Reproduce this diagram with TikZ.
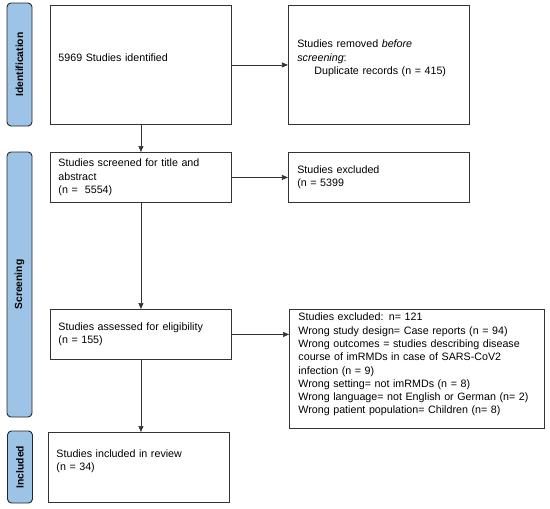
\documentclass[tikz,border=0pt]{standalone}
\usepackage{fontspec}
\setmainfont{Liberation Sans}
\usetikzlibrary{positioning,arrows.meta}
\definecolor{phaseblue}{RGB}{157,195,230}

\begin{document}
\begin{tikzpicture}[x=1pt, y=1pt,
      box/.style={draw=black!80, line width=0.9pt, fill=white, inner xsep=8pt,
          anchor=north west, align=left, font=\fontsize{10.7}{13.3}\selectfont},
      phase/.style={draw=black!85, line width=0.9pt, rounded corners=4pt,
          fill=phaseblue, rotate=90, minimum height=25pt,
          font=\bfseries\fontsize{10.3}{12}\selectfont},
      flow/.style={draw=black!80, line width=0.7pt, -{Triangle[length=6pt, width=5pt]}}]

      \useasboundingbox (0,0) rectangle (550,-509);

      % Phase bars on the left
      \node(identbar)[phase, minimum width=123pt] at (19.5,-64.5) {Identification};
      \node(screenbar)[phase, minimum width=265pt] at (19.5,-284.5) {Screening};
      \node(inclbar)[phase, minimum width=72pt] at (20,-467) {Included};

      % Main column
      \node(found)[box, text width=165pt, minimum height=119pt, text depth=15pt]
          at (50,-5) {5969 Studies identified};
      \node(screened)[box, text width=165pt, minimum height=50pt] at (50,-152)
          {Studies screened for title and\\abstract\\(n = \ 5554)};
      \node(eligible)[box, text width=165pt, minimum height=50pt] at (50,-309)
          {Studies assessed for eligibility\\(n = 155)};
      \node(included)[box, text width=165pt, minimum height=70pt, text depth=28pt]
          at (48,-432) {Studies included in review\\(n = 34)};

      % Side column
      \node(removed)[box, anchor=center, text width=163pt, minimum height=119pt,
          inner xsep=9pt, text depth=42pt, right=56pt of found]
          {Studies removed \textit{before}\\\textit{screening}:\\\hspace*{17pt}Duplicate records (n = 415)};
      \node(excluded)[box, anchor=center, text width=163pt, minimum height=50pt,
          inner xsep=9pt, right=56pt of screened]
          {Studies excluded\\(n = 5399};
      \node(reasons)[box, text width=237pt, minimum height=119pt, inner xsep=9pt,
          text depth=104pt] at (289,-309)
          {Studies excluded: n= 121\\
           Wrong study design= Case reports (n = 94)\\
           Wrong outcomes = studies describing disease\\
           course of imRMDs in case of SARS-CoV2\\
           infection (n = 9)\\
           Wrong setting= not imRMDs (n = 8)\\
           Wrong language= not English or German (n= 2)\\
           Wrong patient population= Children (n= 8)};

      % Arrows down the main column
      \draw[flow] (found) -- (screened);
      \draw[flow] (screened) -- (eligible);
      \draw[flow] (eligible.south) -- (eligible.south |- included.north);

      % Arrows to the side column
      \draw[flow] (found) -- (removed);
      \draw[flow] (screened) -- (excluded);
      \draw[flow] (eligible) -- (eligible -| reasons.west);

\end{tikzpicture}
\end{document}
